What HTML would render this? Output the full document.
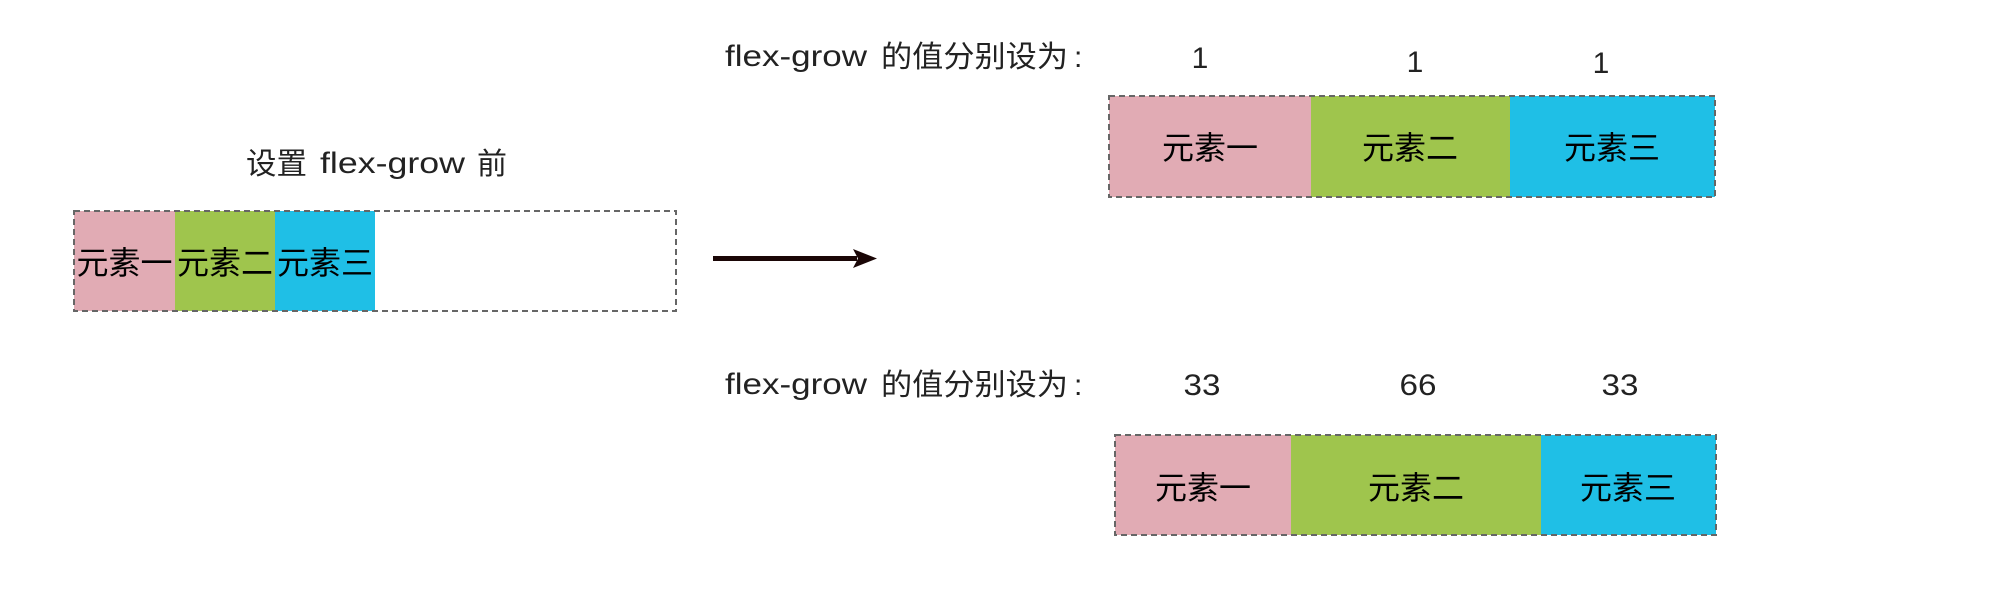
<!DOCTYPE html>
<html>
<head>
<meta charset="utf-8">
<style>
  html, body { margin: 0; padding: 0; background: #ffffff; }
  body { width: 2000px; height: 599px; overflow: hidden; }
  svg { display: block; }
  .lbl { font-family: "Liberation Sans", "Noto Sans CJK SC", sans-serif; font-size: 30px; fill: #222; }
  .box { font-family: "Liberation Sans", "Noto Sans CJK SC", sans-serif; font-size: 32px; fill: #000; }
</style>
</head>
<body>
<svg width="2000" height="599" viewBox="0 0 2000 599" xmlns="http://www.w3.org/2000/svg">
  <!-- Title left -->
  <text class="lbl" x="246" y="174" textLength="61" lengthAdjust="spacingAndGlyphs">设置</text>
  <text class="lbl" x="320" y="173" textLength="145" lengthAdjust="spacingAndGlyphs">flex-grow</text>
  <text class="lbl" x="477" y="174" textLength="30" lengthAdjust="spacingAndGlyphs">前</text>

  <!-- Left box -->
  <rect x="74" y="211" width="101" height="100" fill="#E1ABB4"/>
  <rect x="175" y="211" width="100" height="100" fill="#9FC54D"/>
  <rect x="275" y="211" width="100" height="100" fill="#1FBFE6"/>
  <rect x="74" y="211" width="602" height="100" fill="none" stroke="#666" stroke-width="2" stroke-dasharray="6 4"/>
  <text class="box" x="124.5" y="274" text-anchor="middle">元素一</text>
  <text class="box" x="225" y="274" text-anchor="middle">元素二</text>
  <text class="box" x="325" y="274" text-anchor="middle">元素三</text>

  <!-- Arrow -->
  <rect x="713" y="256" width="144" height="5" fill="#1a0606"/>
  <polygon points="853,249 877,258.5 853,268 858,258.5" fill="#1a0606"/>

  <!-- Top right label -->
  <text class="lbl" x="725" y="66" textLength="142" lengthAdjust="spacingAndGlyphs">flex-grow</text>
  <text class="lbl" x="881" y="67" textLength="187" lengthAdjust="spacingAndGlyphs">的值分别设为</text>
  <text class="lbl" x="1074" y="67">:</text>

  <text class="lbl" x="1200" y="68" text-anchor="middle">1</text>
  <text class="lbl" x="1415" y="72" text-anchor="middle">1</text>
  <text class="lbl" x="1601" y="73" text-anchor="middle">1</text>

  <!-- Top right box -->
  <rect x="1109" y="96" width="202" height="101" fill="#E1ABB4"/>
  <rect x="1311" y="96" width="199" height="101" fill="#9FC54D"/>
  <rect x="1510" y="96" width="205" height="101" fill="#1FBFE6"/>
  <rect x="1109" y="96" width="606" height="101" fill="none" stroke="#666" stroke-width="2" stroke-dasharray="6 4"/>
  <text class="box" x="1210" y="159" text-anchor="middle">元素一</text>
  <text class="box" x="1410" y="159" text-anchor="middle">元素二</text>
  <text class="box" x="1612" y="159" text-anchor="middle">元素三</text>

  <!-- Bottom right label -->
  <text class="lbl" x="725" y="394" textLength="142" lengthAdjust="spacingAndGlyphs">flex-grow</text>
  <text class="lbl" x="881" y="395" textLength="187" lengthAdjust="spacingAndGlyphs">的值分别设为</text>
  <text class="lbl" x="1074" y="395">:</text>

  <text class="lbl" x="1202" y="395" text-anchor="middle" textLength="37" lengthAdjust="spacingAndGlyphs">33</text>
  <text class="lbl" x="1418" y="395" text-anchor="middle" textLength="37" lengthAdjust="spacingAndGlyphs">66</text>
  <text class="lbl" x="1620" y="395" text-anchor="middle" textLength="37" lengthAdjust="spacingAndGlyphs">33</text>

  <!-- Bottom right box -->
  <rect x="1115" y="435" width="176" height="100" fill="#E1ABB4"/>
  <rect x="1291" y="435" width="250" height="100" fill="#9FC54D"/>
  <rect x="1541" y="435" width="175" height="100" fill="#1FBFE6"/>
  <rect x="1115" y="435" width="601" height="100" fill="none" stroke="#666" stroke-width="2" stroke-dasharray="6 4"/>
  <text class="box" x="1203" y="499" text-anchor="middle">元素一</text>
  <text class="box" x="1416" y="499" text-anchor="middle">元素二</text>
  <text class="box" x="1628" y="499" text-anchor="middle">元素三</text>
</svg>
</body>
</html>
